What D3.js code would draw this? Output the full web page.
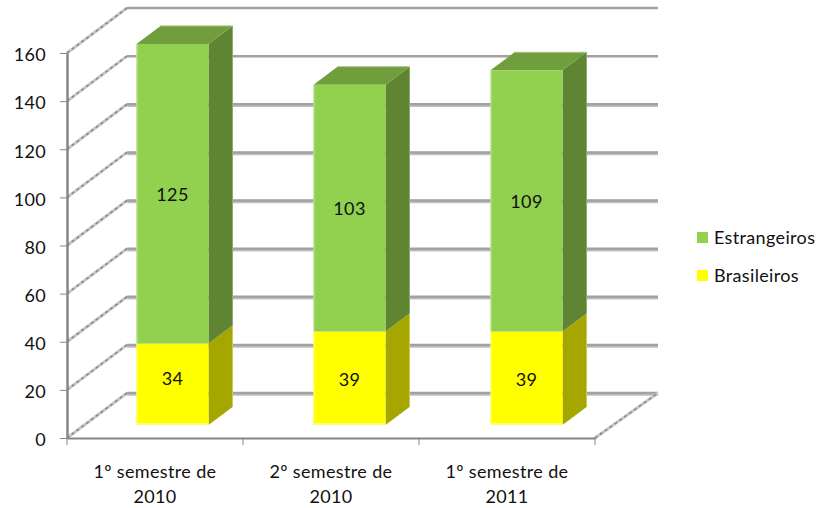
<!DOCTYPE html>
<html>
<head>
<meta charset="utf-8">
<script src="https://cdn.jsdelivr.net/npm/d3@7"></script>
<style>
  body { margin: 0; background: #fff; }
  text { font-family: Lato, "Open Sans", sans-serif; font-size: 18px; letter-spacing: 0.35px; fill: #111; }
</style>
</head>
<body>
<div id="chart"></div>
<script>
var categories = ["1º semestre de 2010", "2º semestre de 2010", "1º semestre de 2011"];
var brasileiros = [34, 39, 39];
var estrangeiros = [125, 103, 109];
var yTicks = [0, 20, 40, 60, 80, 100, 120, 140, 160];
var seriesNames = ["Estrangeiros", "Brasileiros"];

var width = 818, height = 508;

// fake 3d: floor depth of the walls and of the columns
var wallDx = 60, wallDy = 45;
var barDx = 24, barDy = 18;
var barLift = 13;

var svg = d3.select("#chart").append("svg")
    .attr("width", width)
    .attr("height", height);

var x = d3.scaleBand().domain(categories).range([67, 595]);
var y = d3.scaleLinear().domain([0, 160]).range([438, 53]);

// columns sit a bit inside the floor, so they get their own scales
var barX = d3.scaleBand().domain(categories).range([66.5, 597.5]);
var barY = d3.scaleLinear().domain([0, 160]).range([438 - barLift, 438 - barLift - 383.5]);
var barOffset = 70, barWidth = 72;

// back wall gridlines
var grid = svg.append("g");
grid.selectAll(".gridLow")
    .data(yTicks.slice(0, -2))
    .enter().append("line")
    .attr("x1", 127).attr("x2", 658)
    .attr("y1", function(d) { return y(d) - wallDy + 1; })
    .attr("y2", function(d) { return y(d) - wallDy + 1; })
    .attr("stroke", "#c0c0c0").attr("stroke-width", 3.5);
grid.selectAll(".gridTop")
    .data(yTicks)
    .enter().append("line")
    .attr("x1", 127).attr("x2", 658)
    .attr("y1", function(d) { return y(d) - wallDy; })
    .attr("y2", function(d) { return y(d) - wallDy; })
    .attr("stroke", "#a2a2a2").attr("stroke-width", 2.5);

// side wall lines, they look rough in the original
function sideLines(cls, colour, w, dash) {
  grid.selectAll("." + cls)
      .data(yTicks)
      .enter().append("line")
      .attr("x1", 67).attr("x2", 127)
      .attr("y1", function(d) { return y(d); })
      .attr("y2", function(d) { return y(d) - wallDy; })
      .attr("stroke", colour).attr("stroke-width", w)
      .attr("stroke-dasharray", dash);
}
sideLines("sideLow", "#c8c8c8", 3, null);
sideLines("sideTop", "#8a8a8a", 1.6, "3 3");

// floor edge on the right
grid.append("line")
    .attr("x1", 595).attr("x2", 595 + wallDx + 3)
    .attr("y1", y(0)).attr("y2", y(0) - wallDy)
    .attr("stroke", "#c8c8c8").attr("stroke-width", 3);
grid.append("line")
    .attr("x1", 595).attr("x2", 595 + wallDx + 3)
    .attr("y1", y(0)).attr("y2", y(0) - wallDy)
    .attr("stroke", "#8a8a8a").attr("stroke-width", 1.6).attr("stroke-dasharray", "3 3");

// stack the values
var segments = [];
categories.forEach(function(c, i) {
  segments.push({ cat: c, y0: 0, y1: brasileiros[i], value: brasileiros[i], name: "Brasileiros" });
  segments.push({ cat: c, y0: brasileiros[i], y1: brasileiros[i] + estrangeiros[i], value: estrangeiros[i], name: "Estrangeiros" });
});

var front = { Estrangeiros: "#92d050", Brasileiros: "#ffff00" };
var side = { Estrangeiros: "#5f8533", Brasileiros: "#a6a600" };
var edge = { Estrangeiros: "#c4e59a", Brasileiros: "#ffff70" };

var bars = svg.append("g");

function left(d) { return barX(d.cat) + barOffset; }

// side faces
bars.selectAll(".side")
    .data(segments)
    .enter().append("polygon")
    .attr("fill", function(d) { return side[d.name]; })
    .attr("points", function(d) {
      var r = left(d) + barWidth;
      return [[r, barY(d.y0)], [r + barDx, barY(d.y0) - barDy], [r + barDx, barY(d.y1) - barDy], [r, barY(d.y1)]].join(" ");
    });

// lighter stripe along the back edge of the side face
bars.selectAll(".sideEdge")
    .data(segments)
    .enter().append("line")
    .attr("x1", function(d) { return left(d) + barWidth + barDx; })
    .attr("x2", function(d) { return left(d) + barWidth + barDx; })
    .attr("y1", function(d) { return barY(d.y0) - barDy; })
    .attr("y2", function(d) { return barY(d.y1) - barDy; })
    .attr("stroke", function(d) { return d.name == "Brasileiros" ? "#c9c95c" : "#8fa874"; })
    .attr("stroke-width", 1);

// top faces
var tops = segments.filter(function(d) { return d.name == "Estrangeiros"; });
bars.selectAll(".top")
    .data(tops)
    .enter().append("polygon")
    .attr("fill", "#709e3c")
    .attr("points", function(d) {
      var l = left(d), r = l + barWidth, t = barY(d.y1);
      return [[l, t], [l + barDx, t - barDy], [r + barDx, t - barDy], [r, t]].join(" ");
    });
bars.selectAll(".topEdge")
    .data(tops)
    .enter().append("line")
    .attr("x1", function(d) { return left(d) + barDx; })
    .attr("x2", function(d) { return left(d) + barWidth + barDx; })
    .attr("y1", function(d) { return barY(d.y1) - barDy; })
    .attr("y2", function(d) { return barY(d.y1) - barDy; })
    .attr("stroke", "#a9c585").attr("stroke-width", 1);

// front faces
bars.selectAll(".front")
    .data(segments)
    .enter().append("rect")
    .attr("x", left)
    .attr("y", function(d) { return barY(d.y1); })
    .attr("width", barWidth)
    .attr("height", function(d) { return barY(d.y0) - barY(d.y1); })
    .attr("fill", function(d) { return front[d.name]; });

// highlights on the front faces
bars.selectAll(".frontEdge")
    .data(segments)
    .enter().append("line")
    .attr("x1", function(d) { return left(d) + 0.5; })
    .attr("x2", function(d) { return left(d) + 0.5; })
    .attr("y1", function(d) { return barY(d.y0); })
    .attr("y2", function(d) { return barY(d.y1); })
    .attr("stroke", function(d) { return edge[d.name]; })
    .attr("stroke-width", 1);
bars.selectAll(".bottomEdge")
    .data(segments.filter(function(d) { return d.y0 == 0; }))
    .enter().append("line")
    .attr("x1", left)
    .attr("x2", function(d) { return left(d) + barWidth; })
    .attr("y1", function(d) { return barY(0) - 1; })
    .attr("y2", function(d) { return barY(0) - 1; })
    .attr("stroke", "#ffff70").attr("stroke-width", 2);

// value labels
bars.selectAll(".value")
    .data(segments)
    .enter().append("text")
    .attr("text-anchor", "middle")
    .attr("dy", ".35em")
    .attr("x", function(d) { return left(d) + 36; })
    .attr("y", function(d) {
      var mid = (barY(d.y0) + barY(d.y1)) / 2;
      // the 34 label is placed higher than the centre in the original
      return d.value == 34 ? mid - 6 : mid + 1;
    })
    .text(function(d) { return d.value; });

// axes
var yAxis = d3.axisLeft(y).tickValues(yTicks).tickSize(7).tickPadding(14).tickSizeOuter(0);
var gy = svg.append("g").attr("transform", "translate(67,0)").call(yAxis);
gy.select(".domain").attr("stroke", "#868686").attr("stroke-width", 2.5);
gy.selectAll(".tick line").attr("stroke", "#868686").attr("stroke-width", 1);
gy.selectAll(".tick text")
    .attr("y", 2)
    .style("font-size", "18px")
    .style("font-family", "Lato, sans-serif")
    .attr("fill", "#111");

var xAxis = d3.axisBottom(x).tickSize(0).tickFormat("");
var gx = svg.append("g").attr("transform", "translate(0,438)").call(xAxis);
gx.select(".domain").attr("stroke", "#868686").attr("stroke-width", 2);

// ticks sit between the categories
svg.selectAll(".xTick")
    .data(categories.concat(["end"]))
    .enter().append("line")
    .attr("x1", function(d, i) { return 67 + i * x.step(); })
    .attr("x2", function(d, i) { return 67 + i * x.step(); })
    .attr("y1", 438).attr("y2", 445)
    .attr("stroke", "#868686").attr("stroke-width", 1);

// category labels, wrapped before the year
var catLabel = svg.selectAll(".cat")
    .data(categories)
    .enter().append("text")
    .attr("text-anchor", "middle")
    .attr("x", function(d) { return x(d) + x.bandwidth() / 2; })
    .attr("y", 478);
catLabel.append("tspan")
    .attr("x", function(d) { return x(d) + x.bandwidth() / 2; })
    .text(function(d) { return d.slice(0, d.lastIndexOf(" ")); });
catLabel.append("tspan")
    .attr("x", function(d) { return x(d) + x.bandwidth() / 2; })
    .attr("dy", 25)
    .text(function(d) { return d.slice(d.lastIndexOf(" ") + 1); });

// legend
var legend = svg.selectAll(".legend")
    .data(seriesNames)
    .enter().append("g")
    .attr("transform", function(d, i) { return "translate(697," + (232 + i * 38) + ")"; });
legend.append("rect")
    .attr("width", 11).attr("height", 11)
    .attr("fill", function(d) { return front[d]; });
legend.append("text")
    .attr("x", 17).attr("y", 12)
    .text(function(d) { return d; });
</script>
</body>
</html>
